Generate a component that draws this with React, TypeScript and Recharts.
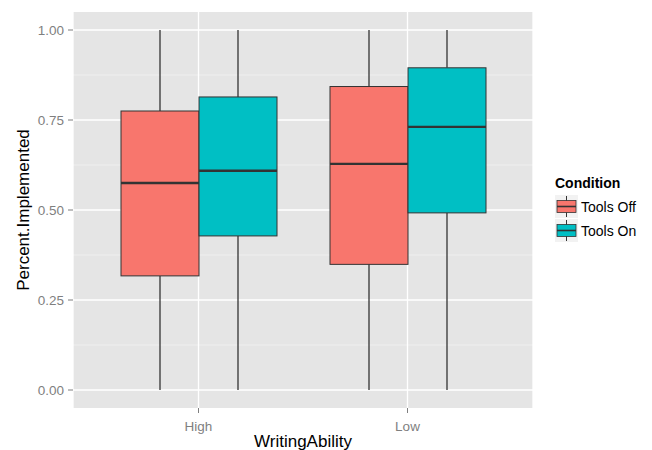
import { ComposedChart, Bar, XAxis, YAxis, CartesianGrid, Label } from 'recharts'

const categories = ['High', 'Low']
const yTicks = [0, 0.25, 0.5, 0.75, 1]
const yMinor = [0.125, 0.375, 0.625, 0.875]

// Tools Off
const offMin = [0, 0]
const offQ1 = [0.317, 0.349]
const offMed = [0.575, 0.628]
const offQ3 = [0.775, 0.843]
const offMax = [1, 1]

// Tools On
const onMin = [0, 0]
const onQ1 = [0.428, 0.492]
const onMed = [0.609, 0.731]
const onQ3 = [0.814, 0.895]
const onMax = [1, 1]

const OFF_COLOR = '#F8766D'
const ON_COLOR = '#00BFC4'
const INK = '#333333'
const FONT = '"Liberation Sans", Arial, sans-serif'

const data = categories.map((c, i) => ({
  cat: c,
  off: [offMin[i], offMax[i]],
  on: [onMin[i], onMax[i]],
  offStats: { min: offMin[i], q1: offQ1[i], med: offMed[i], q3: offQ3[i], max: offMax[i] },
  onStats: { min: onMin[i], q1: onQ1[i], med: onMed[i], q3: onQ3[i], max: onMax[i] },
}))

type Stats = { min: number; q1: number; med: number; q3: number; max: number }

function BoxShape(props: any) {
  const { x, y, width, height, stats, fill } = props as {
    x: number; y: number; width: number; height: number; stats: Stats; fill: string
  }
  // the bar spans [min, max]; map the other stats along it
  const py = (v: number) => y + (height * (stats.max - v)) / (stats.max - stats.min)
  const cx = x + width / 2
  return (
    <g>
      <line x1={cx} x2={cx} y1={py(stats.max)} y2={py(stats.q3)} stroke={INK} strokeWidth={1.3} />
      <line x1={cx} x2={cx} y1={py(stats.q1)} y2={py(stats.min)} stroke={INK} strokeWidth={1.3} />
      <rect
        x={x}
        y={py(stats.q3)}
        width={width}
        height={py(stats.q1) - py(stats.q3)}
        fill={fill}
        stroke={INK}
        strokeWidth={1}
      />
      <line x1={x} x2={x + width} y1={py(stats.med)} y2={py(stats.med)} stroke={INK} strokeWidth={2.4} />
    </g>
  )
}

function KeyGlyph({ fill }: { fill: string }) {
  return (
    <svg width={23} height={23} style={{ display: 'block' }}>
      <rect x={0} y={0} width={23} height={23} fill="#F2F2F2" />
      <line x1={11.5} x2={11.5} y1={1} y2={22} stroke={INK} strokeWidth={1} />
      <rect x={2} y={5.5} width={19} height={12} fill={fill} stroke={INK} strokeWidth={0.8} />
      <line x1={2} x2={21} y1={11.5} y2={11.5} stroke={INK} strokeWidth={1.6} />
    </svg>
  )
}

function LegendBox() {
  const items = [
    { label: 'Tools Off', color: OFF_COLOR },
    { label: 'Tools On', color: ON_COLOR },
  ]
  return (
    <div style={{ position: 'absolute', left: 555, top: 175, fontFamily: FONT, color: '#000' }}>
      <div style={{ fontWeight: 'bold', fontSize: 14, marginBottom: 4 }}>Condition</div>
      {items.map(it => (
        <div key={it.label} style={{ display: 'flex', alignItems: 'center', height: 23, marginBottom: 1 }}>
          <KeyGlyph fill={it.color} />
          <span style={{ fontSize: 14, marginLeft: 3 }}>{it.label}</span>
        </div>
      ))}
    </div>
  )
}

export default function App() {
  return (
    <div style={{ position: 'relative', width: 652, height: 450, background: '#fff' }}>
      <style>{`body{margin:0}`}</style>
      <ComposedChart
        width={652}
        height={450}
        data={data}
        margin={{ top: 12, right: 119, bottom: 0, left: 0 }}
        barGap={0}
        barSize={78}
      >
        <CartesianGrid
          fill="#E5E5E5"
          stroke="#F2F2F2"
          strokeWidth={0.8}
          vertical={false}
          horizontalValues={yMinor}
        />
        <CartesianGrid stroke="#FFFFFF" strokeWidth={1.3} horizontalValues={yTicks} />
        <XAxis
          dataKey="cat"
          type="category"
          padding={{ left: 21, right: 21 }}
          height={42}
          axisLine={false}
          tickSize={5}
          tickMargin={8}
          tickLine={{ stroke: '#7F7F7F' }}
          tick={{ fill: '#7F7F7F', fontSize: 13.5, fontFamily: FONT }}
        >
          <Label
            value="WritingAbility"
            position="insideBottom"
            offset={3}
            style={{ fill: '#000', fontSize: 17, fontFamily: FONT }}
          />
        </XAxis>
        <YAxis
          type="number"
          domain={[-0.05, 1.05]}
          ticks={yTicks}
          allowDataOverflow
          width={73}
          axisLine={false}
          tickSize={5}
          tickMargin={4}
          tickLine={{ stroke: '#7F7F7F' }}
          tickFormatter={(v: number) => v.toFixed(2)}
          tick={{ fill: '#7F7F7F', fontSize: 13.5, fontFamily: FONT }}
        >
          <Label
            content={(p: any) => {
              const vb = p.viewBox || { x: 0, y: 0, height: 0 }
              const cx = vb.x + 23
              const cy = vb.y + vb.height / 2
              return (
                <text
                  x={cx}
                  y={cy}
                  transform={`rotate(-90 ${cx} ${cy})`}
                  textAnchor="middle"
                  dominantBaseline="central"
                  style={{ fill: '#000', fontSize: 17, fontFamily: FONT }}
                >
                  Percent.Implemented
                </text>
              )
            }}
          />
        </YAxis>
        <Bar
          dataKey="off"
          name="Tools Off"
          fill={OFF_COLOR}
          isAnimationActive={false}
          shape={(p: any) => <BoxShape {...p} stats={p.payload.offStats} fill={OFF_COLOR} />}
        />
        <Bar
          dataKey="on"
          name="Tools On"
          fill={ON_COLOR}
          isAnimationActive={false}
          shape={(p: any) => <BoxShape {...p} stats={p.payload.onStats} fill={ON_COLOR} />}
        />
      </ComposedChart>
      <LegendBox />
    </div>
  )
}
